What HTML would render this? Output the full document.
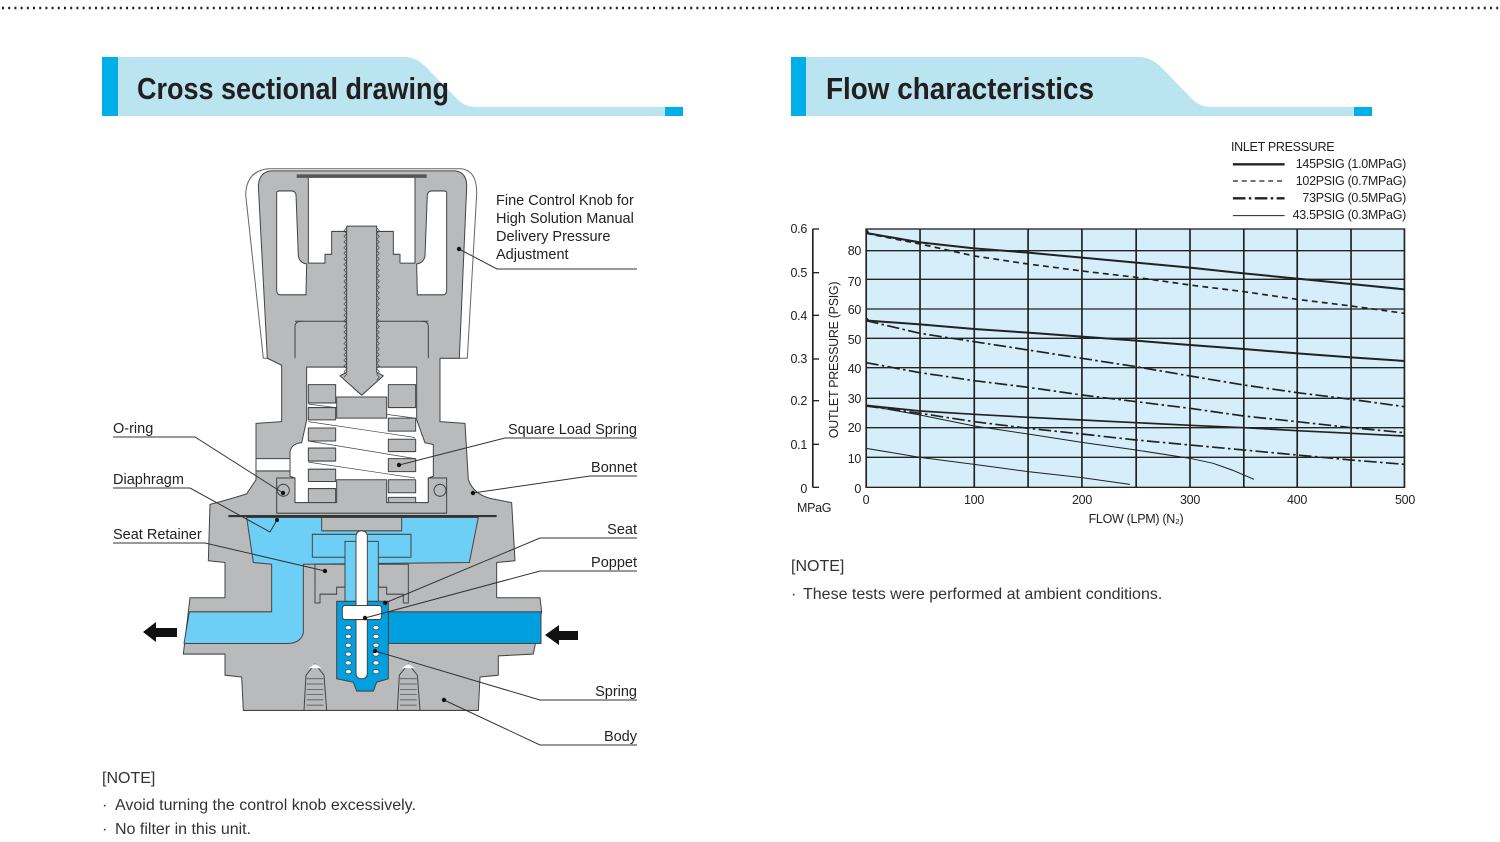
<!DOCTYPE html>
<html><head><meta charset="utf-8"><style>
html,body{margin:0;padding:0;background:#fff;}
body{width:1500px;height:842px;overflow:hidden;position:relative;}
svg{position:absolute;left:0;top:0;}
text{font-family:"Liberation Sans",sans-serif;}
</style></head><body>
<svg width="1500" height="842" viewBox="0 0 1500 842" xmlns="http://www.w3.org/2000/svg">
<line x1="2" y1="8" x2="1500" y2="8" stroke="#222" stroke-width="2.5" stroke-dasharray="2 4.2"/>

<path d="M118,57 L405,57 Q415,57 425,66 L458,100 Q466,107 476,107 L683,107 L683,116 L118,116 Z" fill="#bae4f0"/>
<rect x="102" y="57" width="16" height="59" fill="#00aee8"/>
<rect x="665" y="107" width="18" height="9" fill="#00aee8"/>
<text x="137" y="99" font-family="Liberation Sans Narrow, Liberation Sans, sans-serif" font-weight="bold" font-size="31" fill="#231f20" textLength="312" lengthAdjust="spacingAndGlyphs">Cross sectional drawing</text>

<path d="M806,57 L1140,57 Q1150,57 1160,66 L1193,100 Q1201,107 1211,107 L1372,107 L1372,116 L806,116 Z" fill="#bae4f0"/>
<rect x="791" y="57" width="15" height="59" fill="#00aee8"/>
<rect x="1354" y="107" width="18" height="9" fill="#00aee8"/>
<text x="826" y="99" font-family="Liberation Sans Narrow, Liberation Sans, sans-serif" font-weight="bold" font-size="31" fill="#231f20" textLength="268" lengthAdjust="spacingAndGlyphs">Flow characteristics</text>

<!-- Valve drawing -->
<g transform="translate(180,161) scale(0.33333,0.3522)" stroke="#444" stroke-width="3" stroke-linejoin="round">
  <path d="M197,95 Q200,28 265,22 L845,22 Q892,28 890,95 L862,560 L250,560 Z" fill="#fff" stroke="#666"/>
  <path d="M235,70 Q238,30 275,28 L825,28 Q862,32 860,75 L838,560 L780,560 L780,740 L855,745 L865,905 Q880,945 930,958 L995,970 L1005,1135 L950,1140 L950,1240 L1080,1240 L1085,1280 L1060,1400 L955,1405 L955,1460 L900,1465 L895,1560 L190,1560 L185,1465 L135,1460 L135,1400 L10,1400 L30,1240 L135,1240 L135,1140 L85,1135 L90,975 Q150,960 200,945 L228,905 L228,745 L305,740 L305,580 L262,560 Z" fill="#b9babc"/>
  <path d="M385,45 L705,45 L705,290 L660,290 L660,265 L640,265 L640,200 L455,200 L455,265 L435,265 L435,290 L385,290 Z" fill="#fff"/>
  <rect x="350" y="38" width="390" height="10" fill="#555" stroke="none"/>
  <path d="M290,90 Q290,85 300,85 L335,85 Q345,85 348,95 L355,270 Q360,290 380,292 L378,380 L300,380 Q290,380 290,365 Z" fill="#fff"/>
  <path d="M800,90 Q800,85 790,85 L755,85 Q745,85 742,95 L735,270 Q730,290 710,292 L712,380 L790,380 Q800,380 800,365 Z" fill="#fff"/>
  <line x1="345" y1="455" x2="745" y2="455"/>
  <path d="M345,560 L345,470 Q345,455 365,455 M745,560 L745,470 Q745,455 725,455" fill="none"/>
  <path d="M380,585 L710,585 L710,735 L735,800 L760,805 L760,895 L745,900 L745,970 L345,970 L345,900 L330,895 L330,825 Q335,802 365,800 L380,735 Z" fill="#fff"/>
  <rect x="228" y="845" width="102" height="35" fill="#fff"/>
  <g fill="#b9babc">
    <rect x="385" y="635" width="82" height="52"/><rect x="385" y="700" width="82" height="35"/><rect x="385" y="758" width="82" height="37"/><rect x="385" y="815" width="82" height="37"/><rect x="385" y="875" width="82" height="35"/><rect x="385" y="930" width="82" height="40"/>
    <rect x="625" y="635" width="82" height="65"/><rect x="625" y="730" width="82" height="37"/><rect x="625" y="790" width="82" height="35"/><rect x="625" y="845" width="82" height="37"/><rect x="625" y="905" width="82" height="37"/><rect x="625" y="955" width="82" height="20"/>
  </g>
  <g fill="none" stroke-width="2">
    <line x1="385" y1="690" x2="705" y2="730"/><line x1="385" y1="740" x2="705" y2="785"/><line x1="385" y1="795" x2="705" y2="845"/><line x1="385" y1="855" x2="705" y2="900"/>
  </g>
  <path d="M470,670 L620,670 L620,730 L470,730 Z" fill="#b9babc"/>
  <path d="M500,185 L590,185 L590,600 L610,610 L545,665 L480,610 L500,600 Z" fill="#b9babc"/>
  <path d="M500,190 l-8,8 l8,8 l-8,8 l8,8 l-8,8 l8,8 l-8,8 l8,8 l-8,8 l8,8 l-8,8 l8,8 l-8,8 l8,8 l-8,8 l8,8 l-8,8 l8,8 l-8,8 l8,8 l-8,8 l8,8 l-8,8 l8,8 l-8,8 l8,8 l-8,8 l8,8 l-8,8 l8,8 l-8,8 l8,8 l-8,8 l8,8 l-8,8 l8,8 l-8,8 l8,8 l-8,8 l8,8 l-8,8 l8,8 l-8,8 l8,8 l-8,8 l8,8 l-8,8 l8,8 l-8,8 l8,8 l-8,8 l8,8 l-8,8 M590,190 l8,8 l-8,8 l8,8 l-8,8 l8,8 l-8,8 l8,8 l-8,8 l8,8 l-8,8 l8,8 l-8,8 l8,8 l-8,8 l8,8 l-8,8 l8,8 l-8,8 l8,8 l-8,8 l8,8 l-8,8 l8,8 l-8,8 l8,8 l-8,8 l8,8 l-8,8 l8,8 l-8,8 l8,8 l-8,8 l8,8 l-8,8 l8,8 l-8,8 l8,8 l-8,8 l8,8 l-8,8 l8,8 l-8,8 l8,8 l-8,8 l8,8 l-8,8 l8,8 l-8,8 l8,8 l-8,8 l8,8 l-8,8 l8,8 l-8,8" fill="none" stroke-width="2"/>
  <path d="M290,900 L345,900 L345,970 L470,970 L470,905 L620,905 L620,970 L745,970 L745,900 L800,900 L800,1000 L290,1000 Z" fill="#b9babc"/>
  <ellipse cx="310" cy="935" rx="18" ry="17" fill="#b9babc"/><ellipse cx="780" cy="935" rx="18" ry="17" fill="#b9babc"/>
  <path d="M200,1012 L895,1012 L868,1140 L370,1145 L370,1340 Q362,1370 320,1370 L12,1370 L28,1280 L275,1280 L275,1145 L220,1140 Z" fill="#6dcff5"/>
  <line x1="145" y1="1008" x2="950" y2="1008" stroke-width="6" stroke="#333"/>
  <rect x="425" y="1012" width="240" height="38" fill="#b9babc"/>
  <rect x="397" y="1060" width="296" height="65" fill="#6dcff5"/>
  <path d="M405,1145 L495,1145 L495,1210 L470,1210 L470,1230 L420,1230 L420,1255 L405,1255 Z" fill="#b9babc"/>
  <path d="M685,1145 L595,1145 L595,1210 L620,1210 L620,1230 L670,1230 L670,1255 L685,1255 Z" fill="#b9babc"/>
  <rect x="625" y="1280" width="458" height="90" fill="#00a0e0"/>
  <path d="M470,1250 L625,1250 L625,1470 L590,1480 L580,1505 L530,1505 L520,1480 L470,1470 Z" fill="#00a0e0"/>
  <rect x="495" y="1080" width="100" height="170" fill="#6dcff5"/>
  <rect x="528" y="1050" width="34" height="420" rx="15" fill="#fff"/>
  <rect x="487" y="1262" width="118" height="40" rx="8" fill="#fff"/>
  <g fill="#fff" stroke-width="2">
    <ellipse cx="505" cy="1325" rx="9" ry="6"/><ellipse cx="505" cy="1350" rx="9" ry="6"/><ellipse cx="505" cy="1375" rx="9" ry="6"/><ellipse cx="505" cy="1400" rx="9" ry="6"/><ellipse cx="505" cy="1425" rx="9" ry="6"/><ellipse cx="505" cy="1450" rx="9" ry="6"/>
    <ellipse cx="588" cy="1325" rx="9" ry="6"/><ellipse cx="588" cy="1350" rx="9" ry="6"/><ellipse cx="588" cy="1375" rx="9" ry="6"/><ellipse cx="588" cy="1400" rx="9" ry="6"/><ellipse cx="588" cy="1425" rx="9" ry="6"/><ellipse cx="588" cy="1450" rx="9" ry="6"/>
  </g>
  <path d="M378,1460 L405,1428 L432,1460 L440,1560 L372,1560 Z" fill="#b9babc"/>
  <path d="M658,1460 L685,1428 L712,1460 L720,1560 L652,1560 Z" fill="#b9babc"/>
  <path d="M385,1440 L405,1428 L425,1440 Z M665,1440 L685,1428 L705,1440 Z" fill="#fff" stroke="none"/>
  <path d="M380,1470 l50,0 M380,1485 l50,0 M380,1500 l50,0 M380,1515 l50,0 M380,1530 l50,0 M380,1545 l50,0 M660,1470 l50,0 M660,1485 l50,0 M660,1500 l50,0 M660,1515 l50,0 M660,1530 l50,0 M660,1545 l50,0" stroke-width="2"/>
</g>
<path d="M143,632 L156,622 L156,628 L177,628 L177,637 L156,637 L156,642 Z" fill="#111"/>
<path d="M545,635 L559,625 L559,631 L578,631 L578,640 L559,640 L559,645 Z" fill="#111"/>

<g stroke="#333" stroke-width="1" fill="none">
  <polyline points="459,249 497,269 637,269"/>
  <polyline points="113,437 195,437 283,493"/>
  <polyline points="113,488 190,488 270,532 277,520"/>
  <polyline points="113,543 205,543 325,571"/>
  <polyline points="637,438 505,438 399,465"/>
  <polyline points="637,476 590,476 473,493"/>
  <polyline points="637,538 540,538 385,603"/>
  <polyline points="637,571 540,571 365,618"/>
  <polyline points="637,700 540,700 375,651"/>
  <polyline points="637,745 540,745 444,700"/>
</g>
<g fill="#111">
  <circle cx="459" cy="249" r="2.2"/><circle cx="283" cy="493" r="2.2"/><circle cx="277" cy="520" r="2"/><circle cx="325" cy="571" r="2.2"/><circle cx="399" cy="465" r="2.2"/><circle cx="473" cy="493" r="2.2"/><circle cx="385" cy="603" r="2.2"/><circle cx="365" cy="618" r="2.2"/><circle cx="375" cy="651" r="2.2"/><circle cx="444" cy="700" r="2.2"/>
</g>
<g font-size="14.5" fill="#222">
  <text x="496" y="205">Fine Control Knob for</text>
  <text x="496" y="223">High Solution Manual</text>
  <text x="496" y="241">Delivery Pressure</text>
  <text x="496" y="259">Adjustment</text>
  <text x="113" y="433">O-ring</text>
  <text x="113" y="484">Diaphragm</text>
  <text x="113" y="539">Seat Retainer</text>
  <text x="637" y="434" text-anchor="end">Square Load Spring</text>
  <text x="637" y="472" text-anchor="end">Bonnet</text>
  <text x="637" y="534" text-anchor="end">Seat</text>
  <text x="637" y="567" text-anchor="end">Poppet</text>
  <text x="637" y="696" text-anchor="end">Spring</text>
  <text x="637" y="741" text-anchor="end">Body</text>
</g>
<g font-size="16" fill="#333">
  <text x="102" y="783">[NOTE]</text>
  <text x="102" y="810">·</text><text x="115" y="810">Avoid turning the control knob excessively.</text>
  <text x="102" y="834">·</text><text x="115" y="834">No filter in this unit.</text>
  <text x="791" y="571">[NOTE]</text>
  <text x="791" y="599">·</text><text x="803" y="599">These tests were performed at ambient conditions.</text>
</g>

<g transform="translate(780,130) scale(0.4205,0.33333)">
  <rect x="205" y="297" width="1280" height="775" fill="#d6eef9" stroke="#222" stroke-width="4"/>
  <g stroke="#222" stroke-width="4">
    <line x1="333" y1="297" x2="333" y2="1072"/><line x1="462" y1="297" x2="462" y2="1072"/><line x1="590" y1="297" x2="590" y2="1072"/><line x1="718" y1="297" x2="718" y2="1072"/><line x1="847" y1="297" x2="847" y2="1072"/><line x1="975" y1="297" x2="975" y2="1072"/><line x1="1103" y1="297" x2="1103" y2="1072"/><line x1="1230" y1="297" x2="1230" y2="1072"/><line x1="1358" y1="297" x2="1358" y2="1072"/>
    <line x1="205" y1="362" x2="1485" y2="362"/><line x1="205" y1="448" x2="1485" y2="448"/><line x1="205" y1="537" x2="1485" y2="537"/><line x1="205" y1="625" x2="1485" y2="625"/><line x1="205" y1="713" x2="1485" y2="713"/><line x1="205" y1="805" x2="1485" y2="805"/><line x1="205" y1="893" x2="1485" y2="893"/><line x1="205" y1="982" x2="1485" y2="982"/>
    <line x1="78" y1="297" x2="78" y2="1072"/>
    <line x1="78" y1="297" x2="93" y2="297"/><line x1="78" y1="428" x2="93" y2="428"/><line x1="78" y1="556" x2="93" y2="556"/><line x1="78" y1="687" x2="93" y2="687"/><line x1="78" y1="812" x2="93" y2="812"/><line x1="78" y1="943" x2="93" y2="943"/><line x1="78" y1="1072" x2="93" y2="1072"/>
  </g>
  <g fill="none" stroke="#222">
    <polyline stroke-width="6" points="205,300 210,310 333,337 462,355 590,368 718,383 847,398 975,413 1103,430 1230,446 1358,462 1485,478"/>
    <polyline stroke-width="5" stroke-dasharray="14 10" points="205,310 333,342 462,378 590,402 718,423 847,442 975,465 1103,485 1230,508 1358,528 1485,550"/>
    <polyline stroke-width="6" points="205,565 210,572 333,583 462,597 590,608 718,620 847,632 975,645 1103,657 1230,670 1358,682 1485,693"/>
    <polyline stroke-width="5" stroke-dasharray="30 8 6 8" points="205,572 333,610 462,635 590,660 718,685 847,710 975,738 1103,765 1230,788 1358,808 1485,830"/>
    <polyline stroke-width="5" stroke-dasharray="30 8 6 8" points="205,698 333,728 462,752 590,772 718,795 847,815 975,835 1103,858 1230,875 1358,893 1485,908"/>
    <polyline stroke-width="5" points="205,826 333,843 462,853 590,862 718,870 847,878 975,886 1103,893 1230,902 1358,910 1485,918"/>
    <polyline stroke-width="3" points="205,826 333,855 462,888 590,912 718,937 847,960 975,985 1030,1000 1075,1020 1127,1048"/>
    <polyline stroke-width="5" stroke-dasharray="30 8 6 8" points="205,828 333,850 462,875 590,895 718,912 847,930 975,945 1103,960 1230,975 1358,990 1485,1003"/>
    <polyline stroke-width="3" points="205,955 333,982 462,1003 590,1025 718,1043 832,1063"/>
  </g>
  <g stroke="#222" fill="none">
    <line x1="1077" y1="103" x2="1200" y2="103" stroke-width="7"/>
    <line x1="1077" y1="153" x2="1200" y2="153" stroke-width="4" stroke-dasharray="12 9"/>
    <line x1="1077" y1="205" x2="1200" y2="205" stroke-width="7" stroke-dasharray="30 8 6 8"/>
    <line x1="1077" y1="257" x2="1200" y2="257" stroke-width="3"/>
  </g>
</g>
<g font-size="12.5" fill="#222" letter-spacing="-0.3">
  <text x="1231" y="151">INLET PRESSURE</text>
  <text x="1406" y="168" text-anchor="end">145PSIG (1.0MPaG)</text>
  <text x="1406" y="185" text-anchor="end">102PSIG (0.7MPaG)</text>
  <text x="1406" y="202" text-anchor="end">73PSIG (0.5MPaG)</text>
  <text x="1406" y="219" text-anchor="end">43.5PSIG (0.3MPaG)</text>
  <g text-anchor="end">
    <text x="807" y="233">0.6</text><text x="807" y="277">0.5</text><text x="807" y="320">0.4</text><text x="807" y="363">0.3</text><text x="807" y="405">0.2</text><text x="807" y="449">0.1</text><text x="807" y="493">0</text>
    <text x="861" y="255">80</text><text x="861" y="286">70</text><text x="861" y="314">60</text><text x="861" y="344">50</text><text x="861" y="373">40</text><text x="861" y="403">30</text><text x="861" y="432">20</text><text x="861" y="463">10</text><text x="861" y="493">0</text>
  </g>
  <g text-anchor="middle">
    <text x="866" y="504">0</text><text x="974" y="504">100</text><text x="1082" y="504">200</text><text x="1190" y="504">300</text><text x="1297" y="504">400</text><text x="1405" y="504">500</text>
    <text x="1136" y="523">FLOW (LPM) (N₂)</text>
  </g>
  <text x="797" y="512">MPaG</text>
  <text transform="translate(838,360) rotate(-90)" text-anchor="middle">OUTLET PRESSURE (PSIG)</text>
</g>
</svg>
</body></html>
